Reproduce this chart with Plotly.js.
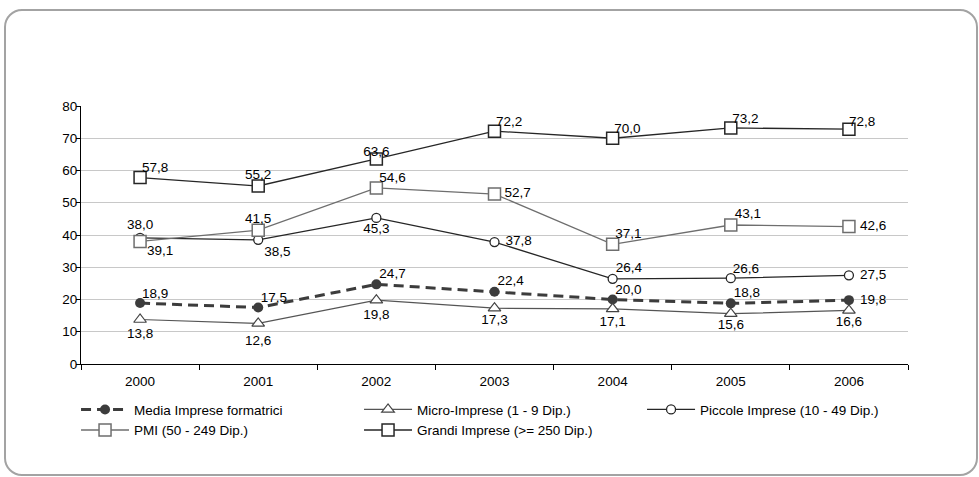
<!DOCTYPE html>
<html>
<head>
<meta charset="utf-8">
<script src="https://cdn.plot.ly/plotly-3.0.1.min.js"></script>
<style>
  html, body { margin: 0; padding: 0; background: #fff; }
  #wrap { position: relative; width: 979px; height: 477px; overflow: hidden; }
  #chart { position: absolute; left: 0; top: 0; width: 979px; height: 477px; }
  #frame { position: absolute; left: 4px; top: 9px; width: 974px; height: 467px;
           box-sizing: border-box; border: 2px solid #a3a3a3; border-radius: 18px;
           pointer-events: none; }
</style>
</head>
<body>
<div id="wrap">
  <div id="chart"></div>
  <div id="frame"></div>
</div>
<script>
// ---- data ----
const years = ['2000', '2001', '2002', '2003', '2004', '2005', '2006'];
const media = [18.9, 17.5, 24.7, 22.4, 20.0, 18.8, 19.8];
const micro = [13.8, 12.6, 19.8, 17.3, 17.1, 15.6, 16.6];
const piccole = [39.1, 38.5, 45.3, 37.8, 26.4, 26.6, 27.5];
const pmi = [38.0, 41.5, 54.6, 52.7, 37.1, 43.1, 42.6];
const grandi = [57.8, 55.2, 63.6, 72.2, 70.0, 73.2, 72.8];
const yTicks = [0, 10, 20, 30, 40, 50, 60, 70, 80];

const FONT = 'Liberation Sans, Arial, sans-serif';
const FS = 13.5;
const fmt = arr => arr.map(v => v.toFixed(1).replace('.', ','));
const txtFont = { family: FONT, size: FS, color: '#000' };

// line + marker series
const series = [
  {
    name: 'Media Imprese formatrici', x: years, y: media, type: 'scatter', mode: 'lines+markers',
    line: { color: '#3c3c3c', width: 3, dash: '10px,6px' },
    marker: { symbol: 'circle', size: 10, color: '#3c3c3c' }
  },
  {
    name: 'Micro-Imprese (1 - 9 Dip.)', x: years, y: micro, type: 'scatter', mode: 'lines+markers',
    line: { color: '#555', width: 1.2 },
    marker: { symbol: 'triangle-up', size: 11, color: '#fff', line: { color: '#444', width: 1.2 } }
  },
  {
    name: 'Piccole Imprese (10 - 49 Dip.)', x: years, y: piccole, type: 'scatter', mode: 'lines+markers',
    line: { color: '#262626', width: 1.3 },
    marker: { symbol: 'circle', size: 9, color: '#fff', line: { color: '#262626', width: 1.3 } }
  },
  {
    name: 'PMI (50 - 249 Dip.)', x: years, y: pmi, type: 'scatter', mode: 'lines+markers',
    line: { color: '#6e6e6e', width: 1.3 },
    marker: { symbol: 'square', size: 12, color: '#fff', line: { color: '#6e6e6e', width: 1.5 } }
  },
  {
    name: 'Grandi Imprese (>= 250 Dip.)', x: years, y: grandi, type: 'scatter', mode: 'lines+markers',
    line: { color: '#262626', width: 1.3 },
    marker: { symbol: 'square', size: 12, color: '#fff', line: { color: '#262626', width: 1.5 } }
  }
];

// value labels (invisible marker sizes only tune the label offset from the point)
function labels(vals, pos, offs) {
  return {
    x: years, y: vals, type: 'scatter', mode: 'markers+text', showlegend: false, hoverinfo: 'skip',
    marker: { size: offs, opacity: 0, color: '#fff' },
    text: fmt(vals), textposition: pos, textfont: txtFont, cliponaxis: false
  };
}
const TR = 'top right', TC = 'top center', MR = 'middle right', BR = 'bottom right', BC = 'bottom center';
const labelTraces = [
  labels(media, [TR, TR, TR, TR, TR, TR, MR], [1.6, 2.4, 3.2, 3.2, 2.4, 3.2, 16]),
  labels(micro, BC, [11.2, 16.8, 12.3, 7.2, 10, 6, 7.5]),
  labels(piccole, [BR, BR, BC, MR, TR, TR, MR], [9.6, 8, 5.6, 16, 3.2, 1.6, 16]),
  labels(pmi, [TC, TC, TR, MR, TR, TR, MR], [12.8, 4.8, 3.2, 14.4, 2.4, 4.8, 16]),
  labels(grandi, [TR, TC, TC, TR, TR, TR, TR], [1.6, 4, 0, 0.8, 0.8, 0.8, 0])
];

const layout = {
  width: 979, height: 477,
  margin: { l: 81, r: 71, t: 106, b: 113 },
  paper_bgcolor: 'rgba(0,0,0,0)', plot_bgcolor: 'rgba(0,0,0,0)',
  font: { family: FONT, size: FS, color: '#000' },
  showlegend: true,
  legend: {
    orientation: 'h', x: -0.006, xanchor: 'left', y: -0.117, yanchor: 'top',
    itemwidth: 48, entrywidth: 220, entrywidthmode: 'pixels', traceorder: 'normal',
    font: { family: FONT, size: FS, color: '#000' },
    bgcolor: 'rgba(0,0,0,0)', tracegroupgap: 0
  },
  xaxis: {
    type: 'category', range: [-0.5, 6.5], tickson: 'boundaries',
    ticks: 'outside', ticklen: 5, tickcolor: '#000', tickwidth: 1, ticklabelstandoff: 5,
    showline: true, linecolor: '#000', linewidth: 1, showgrid: false, zeroline: false,
    tickfont: { size: FS }, fixedrange: true
  },
  yaxis: {
    range: [0, 80], tickvals: yTicks, ticktext: yTicks.map(String),
    ticks: 'outside', ticklen: 4, tickcolor: '#000', ticklabelstandoff: -4,
    showline: true, linecolor: '#000', linewidth: 1,
    showgrid: true, gridcolor: '#c8c8c8', gridwidth: 1, zeroline: false,
    tickfont: { size: FS }, fixedrange: true
  }
};

Plotly.newPlot('chart', series.concat(labelTraces), layout, { displayModeBar: false, staticPlot: true });
</script>
</body>
</html>
